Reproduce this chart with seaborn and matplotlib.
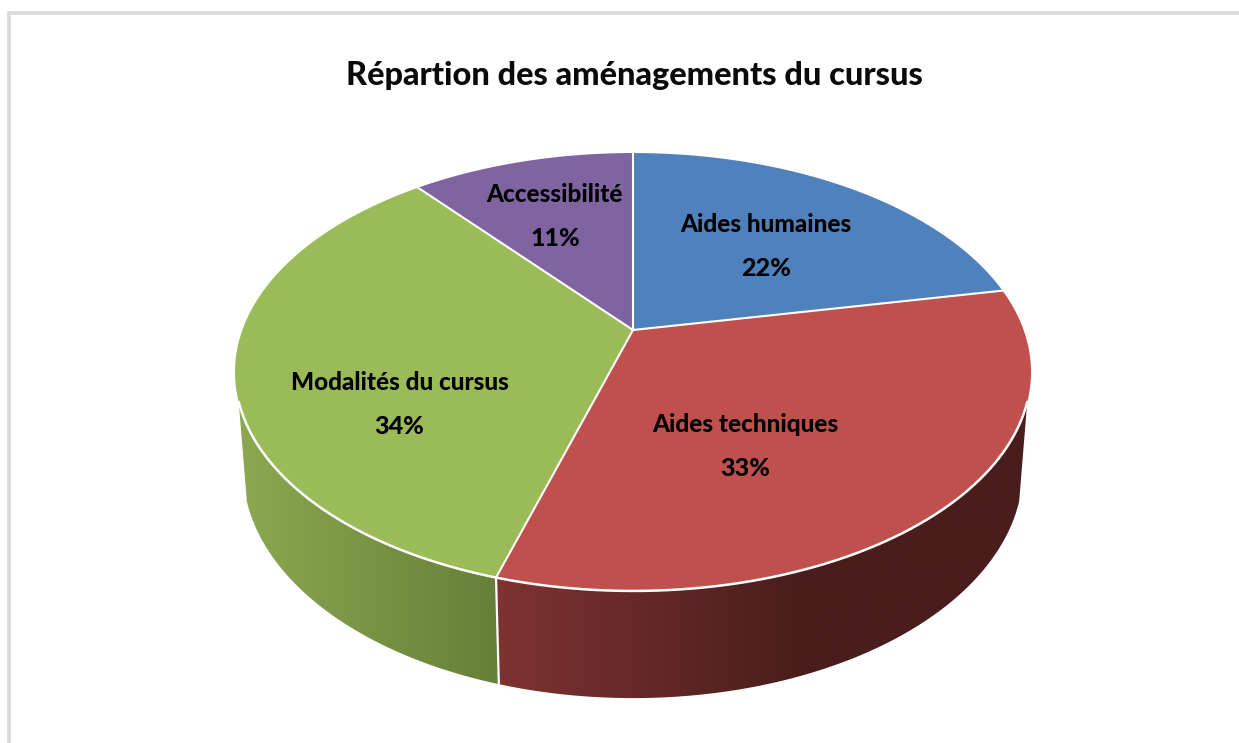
import numpy as np
import matplotlib
matplotlib.use("Agg")
import matplotlib.pyplot as plt
from matplotlib.colors import LinearSegmentedColormap
from matplotlib.patches import Polygon
import seaborn as sns

title = "Répartion des aménagements du cursus"
categories = ["Aides humaines", "Aides techniques", "Modalités du cursus", "Accessibilité"]
shares = [21.9, 32.72, 34.49, 10.89]
top_colors = ["#4F81BD", "#C0504D", "#9BBB59", "#8064A2"]
label_centres = [(766, 224), (745, 425), (400, 383), (554, 194)]
pct_centres = [(766, 269), (745, 469), (399, 426), (555, 239)]

sns.set_theme(style="white")
plt.rcParams["font.family"] = ["Lato", "DejaVu Sans"]
palette = sns.color_palette(top_colors)

fig = plt.figure(figsize=(12.39, 7.43), dpi=100, facecolor="white")
ax = fig.add_axes([0, 0, 1, 1])
ax.axis("off")


def top_face(theta):
    u, v = np.sin(theta), np.cos(theta)
    w = 1 + 0.1918 * v
    return 633 + 390.6 * u / w, (330 - 147.6 * v) / w


def bottom_face(theta):
    u, v = np.sin(theta), np.cos(theta)
    w = 1 + 0.1918 * v
    return 633 + 382.6 * u / w, (426.3 - 137.9 * v) / w


# frame
ax.plot([9, 9, 1239], [743, 13, 13], color="#DADADA", lw=2.6, solid_joinstyle="miter")

fractions = np.array(shares) / np.sum(shares)
edges = np.concatenate([[0], np.cumsum(fractions)]) * 2 * np.pi
wall_start = np.arccos(-0.32)
wall_end = 2 * np.pi - wall_start

# side wall with a smooth left-to-right shading, clipped to each slice's band
wall_shades = {1: ((500, "#7E3232"), (800, "#4A1D1D")),
               2: ((240, "#8CA850"), (500, "#667F38"))}
for i, ((x0, c0), (x1, c1)) in wall_shades.items():
    a0, a1 = max(edges[i], wall_start), min(edges[i + 1], wall_end)
    th = np.linspace(a0, a1, 300)
    tx, ty = top_face(th)
    bx, by = bottom_face(th)
    band = Polygon(np.c_[np.r_[tx, bx[::-1]], np.r_[ty, by[::-1]]], closed=True,
                   facecolor="none", edgecolor="none", transform=ax.transData)
    ax.add_patch(band)
    cmap = LinearSegmentedColormap.from_list("wall", [c0, c1])
    left, right = np.r_[tx, bx].min() - 2, np.r_[tx, bx].max() + 2
    xs = np.linspace(left, right, 600)
    grad = np.clip((xs - x0) / (x1 - x0), 0, 1)[None, :]
    im = ax.imshow(grad, cmap=cmap, vmin=0, vmax=1, aspect="auto", zorder=2,
                   extent=(left, right, 710, 380), interpolation="bilinear")
    im.set_clip_path(band)

# white seam between the walls
sx0, sy0 = top_face(edges[2])
sx1, sy1 = bottom_face(edges[2])
ax.plot([sx0, sx1], [sy0, sy1], color="white", lw=1.6, zorder=3)

# top face
for i in range(len(shares)):
    th = np.linspace(edges[i], edges[i + 1], 240)
    x, y = top_face(th)
    ax.fill(np.r_[633, x], np.r_[330, y], facecolor=palette[i], edgecolor="none", zorder=4)
for i in range(len(shares)):
    x, y = top_face(np.array([edges[i]]))
    ax.plot([633, x[0]], [330, y[0]], color="white", lw=1.5, zorder=5)
th = np.linspace(wall_start, wall_end, 500)
x, y = top_face(th)
ax.plot(x, y, color="white", lw=1.8, zorder=5)

ax.set_xlim(0, 1239)
ax.set_ylim(743, 0)

# text
ax.text(634, 75, title, ha="center", va="center", fontsize=23.4, fontweight=900,
        color="#0A0A0A", zorder=6)
for i, name in enumerate(categories):
    ax.text(*label_centres[i], name, ha="center", va="center", fontsize=17.5,
            fontweight=900, color="black", zorder=6)
    ax.text(*pct_centres[i], f"{round(fractions[i] * 100):d}%", ha="center",
            va="center", fontsize=18, fontweight=900, color="black", zorder=6)

fig.savefig("out.png", dpi=100, facecolor="white")
